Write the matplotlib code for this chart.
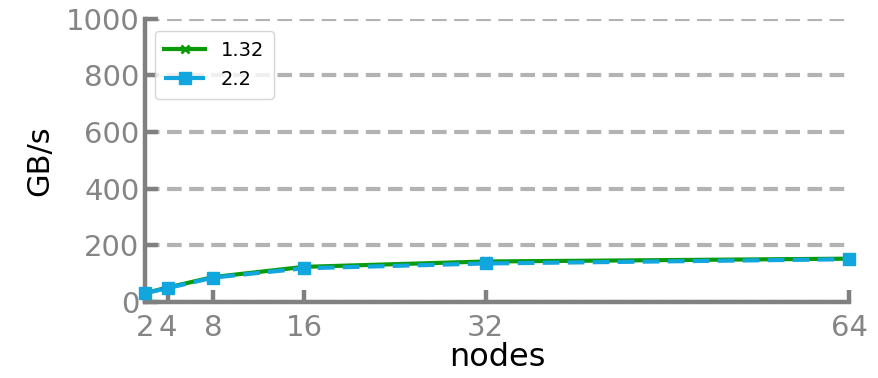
import matplotlib
matplotlib.use("Agg")
import matplotlib.pyplot as plt

# Aggregate bandwidth vs node count for two releases
nodes = [2, 4, 8, 16, 32, 64]
bw_132 = [30, 50, 87, 123, 142, 152]
bw_22 = [30, 48, 85, 118, 135, 150]
x_ticks = [2, 4, 8, 16, 32, 64]
y_ticks = [0, 200, 400, 600, 800, 1000]

grey = "#808080"

fig = plt.figure(figsize=(8.79, 3.78), dpi=100)
ax = fig.add_axes([0.165, 0.202, 0.801, 0.748])

ax.plot(nodes, bw_132, color="#0a9a0a", lw=3, marker="x", ms=6, mew=2,
        label="1.32", clip_on=False, zorder=3)
ax.plot(nodes, bw_22, color="#11a6de", lw=3, ls=(0, (4, 2)), marker="s", ms=8,
        label="2.2", clip_on=False, zorder=4)

ax.set_xlim(2, 64)
ax.set_ylim(0, 1000)
ax.set_xticks(x_ticks)
ax.set_yticks(y_ticks)

# dashed horizontal guides
ax.yaxis.grid(True, color="#b3b3b3", ls=(0, (3.5, 1.8)), lw=3)
ax.set_axisbelow(True)

for side in ("top", "right"):
    ax.spines[side].set_visible(False)
for side in ("left", "bottom"):
    ax.spines[side].set_color(grey)
    ax.spines[side].set_linewidth(3.2)

ax.tick_params(direction="in", length=9, width=3.2, color=grey,
               labelcolor="#858585", labelsize=21)
ax.tick_params(axis="x", pad=9)
ax.tick_params(axis="y", pad=4)

ax.set_xlabel("nodes", fontsize=23, labelpad=0)
ax.set_ylabel("GB/s", fontsize=22, labelpad=8)

leg = ax.legend(loc="upper left", fontsize=14, frameon=True, fancybox=True,
                bbox_to_anchor=(0.0, 0.99), handlelength=2.1, labelspacing=0.5,
                borderpad=0.5)
leg.get_frame().set_edgecolor("#cccccc")

fig.savefig("out.png", dpi=100)
